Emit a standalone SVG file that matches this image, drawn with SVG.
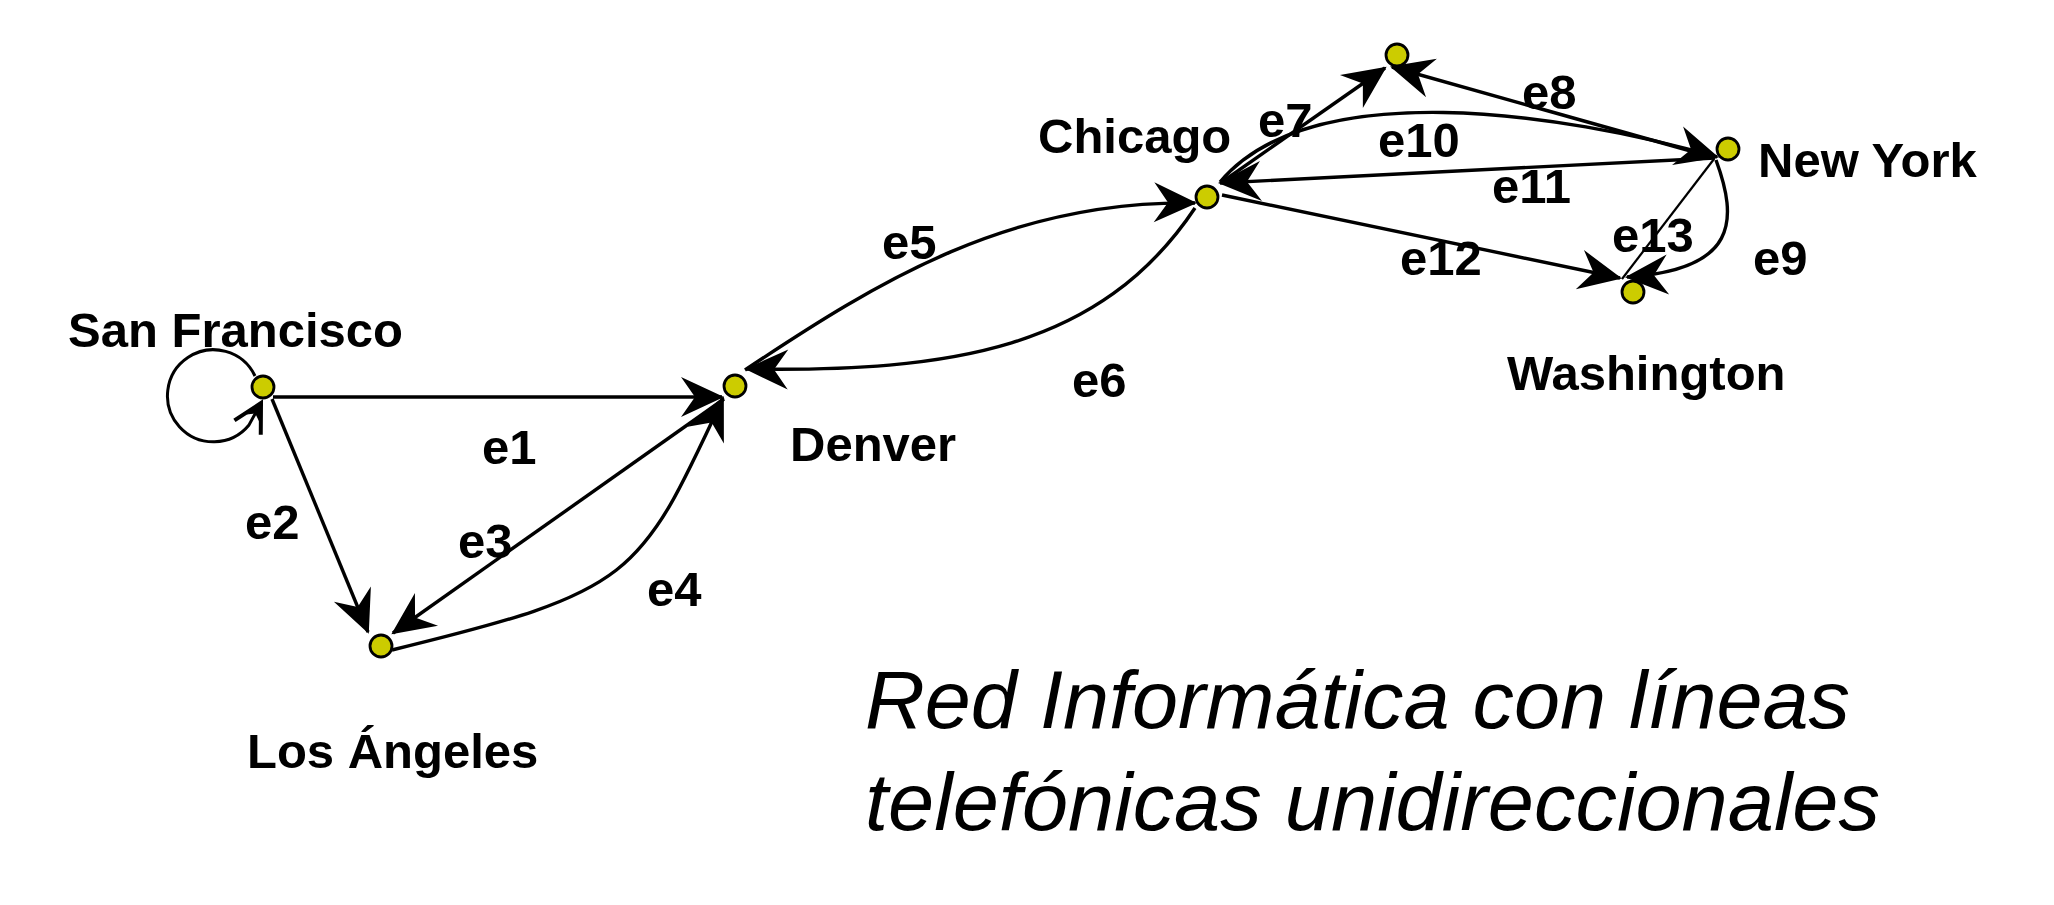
<svg xmlns="http://www.w3.org/2000/svg" width="2054" height="905" viewBox="0 0 2054 905">
<style>
.edge{fill:none;stroke:#000;stroke-width:3.4;marker-end:url(#ah)}
.plain{fill:none;stroke:#000}
.node{fill:#cccc00;stroke:#000;stroke-width:2.8}
.lbl{font-family:"Liberation Sans",Arial,Helvetica,sans-serif;font-weight:bold;font-size:49px;fill:#000}
.title{font-family:"Liberation Sans",Arial,Helvetica,sans-serif;font-style:italic;font-size:82px;fill:#000}
</style>
<defs>
<marker id="ah" markerUnits="userSpaceOnUse" orient="auto" refX="0" refY="0" markerWidth="60" markerHeight="60" viewBox="-50 -30 60 60" overflow="visible">
<path d="M2,0 L-41,-20 L-27,0 L-41,20 Z" fill="#000"/>
</marker>
<marker id="lh" markerUnits="userSpaceOnUse" orient="auto" refX="0" refY="0" markerWidth="50" markerHeight="50" viewBox="-40 -25 50 50" overflow="visible">
<path d="M-28,-15 L0,0 L-28,15" fill="none" stroke="#000" stroke-width="4"/>
<path d="M2,0 L-17,-7 L-12,0 L-17,7 Z" fill="#000"/>
</marker>
</defs>
<rect width="2054" height="905" fill="#fff"/>
<g id="connectors">
<path id="loop" class="plain" stroke-width="3" marker-end="url(#lh)" d="M255,376 A46,46 0 1 0 249,425 L261,403"/>
<path id="e1" class="edge" d="M273,397 L722,397"/>
<path id="e2" class="edge" d="M272,399 L368,632"/>
<path id="e3" class="edge" d="M724,399 L393,633"/>
<path id="e4" class="edge" d="M392,650 C634,591 639,579 723,398"/>
<path id="e5" class="edge" d="M745,370 C880,280 1010,200 1195,203"/>
<path id="e6" class="edge" d="M1195,208 C1100,350 950,372 747,369"/>
<path id="e7" class="edge" d="M1222,182 L1385,68"/>
<path id="e8" class="edge" d="M1712,157 L1392,67"/>
<path id="e9" class="edge" d="M1716,160 C1738,220 1738,270 1627,277"/>
<path id="e10" class="edge" d="M1220,182 C1310,75 1560,112 1717,157"/>
<path id="e11" class="edge" d="M1715,158 L1220,183"/>
<path id="e12" class="edge" d="M1222,195 L1620,278"/>
<path id="e13" class="plain" stroke-width="2.2" d="M1714,159 L1622,279"/>
</g>
<g id="edge-labels">
<text class="lbl" x="482" y="464">e1</text>
<text class="lbl" x="245" y="539">e2</text>
<text class="lbl" x="458" y="558">e3</text>
<text class="lbl" x="647" y="606">e4</text>
<text class="lbl" x="882" y="259">e5</text>
<text class="lbl" x="1072" y="397">e6</text>
<text class="lbl" x="1258" y="137">e7</text>
<text class="lbl" x="1522" y="109">e8</text>
<text class="lbl" x="1753" y="275">e9</text>
<text class="lbl" x="1378" y="157">e10</text>
<text class="lbl" x="1492" y="203">e11</text>
<text class="lbl" x="1400" y="275">e12</text>
<text class="lbl" x="1612" y="252">e13</text>
</g>
<g id="san-francisco"><circle class="node" cx="263" cy="387" r="11"/><text class="lbl" x="68" y="347">San Francisco</text></g>
<g id="los-angeles"><circle class="node" cx="381" cy="646" r="11"/><text class="lbl" x="247" y="768">Los Ángeles</text></g>
<g id="denver"><circle class="node" cx="735" cy="386" r="11"/><text class="lbl" x="790" y="461">Denver</text></g>
<g id="chicago"><circle class="node" cx="1207" cy="197" r="11"/><text class="lbl" x="1038" y="153">Chicago</text></g>
<g id="top-node"><circle class="node" cx="1397" cy="55" r="11"/></g>
<g id="new-york"><circle class="node" cx="1728" cy="149" r="11"/><text class="lbl" x="1758" y="177">New York</text></g>
<g id="washington"><circle class="node" cx="1633" cy="292" r="11"/><text class="lbl" x="1507" y="390">Washington</text></g>
<g id="title">
<text class="title" x="865" y="728" textLength="985" lengthAdjust="spacingAndGlyphs">Red Informática con líneas</text>
<text class="title" x="865" y="830" textLength="1015" lengthAdjust="spacingAndGlyphs">telefónicas unidireccionales</text>
</g>
</svg>
